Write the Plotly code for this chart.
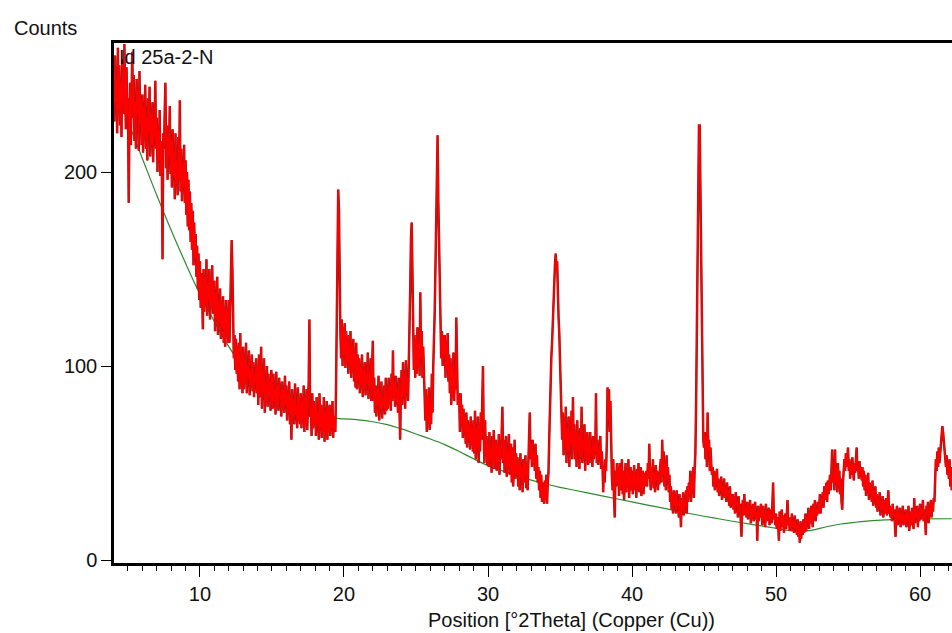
import plotly.graph_objects as go

# Scan grid (degrees 2Theta)
theta_start = 4.0
theta_step = 0.05

c04 = [252, 226, 260, 236, 248, 220, 264, 232, 255, 224, 246, 218, 258, 240, 230, 266, 238, 222, 254, 229]
c05 = [238, 184, 226, 246, 214, 240, 262, 228, 250, 216, 236, 212, 248, 230, 242, 211, 252, 225, 238, 214]
c06 = [240, 210, 234, 218, 245, 212, 228, 206, 238, 220, 244, 208, 230, 214, 236, 205, 226, 218, 247, 212]
c07 = [228, 200, 222, 206, 232, 198, 216, 204, 155, 220, 212, 230, 246, 202, 224, 196, 218, 208, 234, 199]
c08 = [216, 192, 222, 198, 210, 186, 220, 194, 206, 188, 218, 196, 237, 190, 212, 185, 204, 192, 214, 184]
c09 = [206, 178, 200, 172, 196, 170, 190, 164, 184, 160, 180, 152, 174, 156, 168, 146, 162, 140, 158, 134]
c10 = [154, 130, 148, 136, 119, 150, 128, 146, 132, 155, 126, 142, 134, 150, 124, 146, 130, 152, 127, 140]
c11 = [144, 118, 138, 124, 146, 116, 134, 122, 140, 114, 132, 120, 136, 112, 130, 110, 134, 116, 128, 112]
c12 = [134, 112, 128, 140, 165, 150, 118, 104, 116, 98, 114, 96, 110, 92, 112, 88, 117, 90, 106, 86]
c13 = [110, 88, 104, 92, 112, 86, 100, 94, 108, 85, 98, 90, 106, 87, 102, 84, 96, 91, 104, 86]
c14 = [100, 80, 106, 84, 94, 110, 78, 98, 86, 104, 76, 92, 82, 100, 79, 96, 84, 92, 77, 98]
c15 = [92, 78, 96, 82, 88, 75, 97, 80, 90, 77, 94, 84, 86, 74, 92, 79, 88, 76, 95, 80]
c16 = [90, 72, 86, 76, 92, 70, 84, 62, 88, 74, 82, 70, 91, 75, 80, 68, 89, 72, 84, 70]
c17 = [86, 68, 82, 72, 90, 66, 84, 70, 88, 67, 80, 92, 124, 74, 78, 64, 86, 68, 82, 70]
c18 = [80, 64, 84, 70, 76, 62, 86, 68, 80, 63, 78, 66, 84, 61, 76, 65, 82, 62, 79, 66]
c19 = [80, 64, 76, 68, 82, 63, 74, 70, 66, 90, 117, 170, 191, 180, 140, 118, 104, 124, 100, 120]
c20 = [106, 122, 99, 118, 102, 116, 96, 112, 100, 118, 94, 110, 98, 114, 92, 108, 89, 112, 88, 106]
c21 = [92, 104, 86, 100, 90, 106, 84, 98, 88, 102, 85, 96, 91, 107, 83, 97, 89, 104, 82, 94]
c22 = [113, 82, 94, 76, 90, 74, 88, 80, 95, 72, 86, 78, 92, 73, 84, 79, 90, 75, 94, 77]
c23 = [86, 78, 94, 80, 90, 77, 96, 82, 108, 84, 92, 79, 95, 81, 88, 76, 94, 80, 62, 86]
c24 = [98, 80, 102, 84, 96, 78, 103, 86, 94, 82, 100, 108, 140, 165, 174, 150, 122, 98, 116, 94]
c25 = [114, 96, 120, 100, 112, 95, 138, 104, 118, 94, 110, 98, 86, 72, 88, 66, 84, 70, 89, 67]
c26 = [82, 70, 96, 76, 100, 110, 128, 150, 168, 200, 219, 185, 158, 140, 124, 104, 118, 100, 116, 106]
c27 = [116, 94, 112, 98, 117, 92, 106, 86, 104, 80, 100, 84, 107, 82, 96, 88, 125, 90, 80, 86]
c28 = [84, 66, 86, 70, 80, 63, 78, 66, 74, 60, 76, 58, 72, 62, 70, 57, 74, 60, 68, 56]
c29 = [72, 55, 77, 52, 68, 58, 74, 50, 70, 56, 76, 62, 84, 100, 66, 50, 72, 54, 64, 49]
c30 = [60, 48, 66, 52, 58, 45, 64, 50, 67, 47, 56, 62, 46, 60, 50, 65, 44, 58, 52, 63]
c31 = [79, 50, 62, 45, 58, 64, 43, 56, 48, 65, 44, 54, 60, 40, 58, 38, 52, 62, 42, 55]
c32 = [44, 53, 38, 50, 36, 55, 42, 48, 35, 52, 40, 46, 54, 37, 50, 36, 47, 55, 76, 52]
c33 = [60, 48, 62, 50, 56, 46, 60, 42, 54, 40, 48, 36, 46, 32, 44, 30, 40, 34, 29, 41]
c34 = [31, 44, 29, 40, 45, 62, 80, 98, 105, 112, 122, 140, 145, 152, 158, 150, 154, 132, 125, 117]
c35 = [100, 90, 80, 62, 76, 54, 72, 58, 79, 50, 68, 56, 74, 48, 66, 60, 77, 52, 84, 58]
c36 = [70, 52, 66, 48, 72, 56, 64, 47, 68, 54, 79, 50, 62, 57, 70, 46, 64, 52, 66, 49]
c37 = [62, 50, 66, 54, 58, 48, 64, 52, 60, 56, 86, 50, 62, 49, 58, 54, 64, 47, 56, 50]
c38 = [35, 48, 40, 52, 46, 60, 89, 72, 88, 66, 82, 50, 44, 36, 52, 32, 22, 46, 38, 50]
c39 = [40, 48, 33, 50, 36, 44, 52, 34, 46, 31, 42, 50, 35, 47, 38, 52, 32, 44, 48, 36]
c40 = [46, 34, 42, 49, 36, 44, 32, 47, 38, 50, 35, 43, 48, 33, 41, 46, 34, 45, 38, 42]
c41 = [46, 38, 50, 42, 60, 44, 36, 48, 40, 52, 37, 45, 35, 49, 41, 46, 36, 44, 39, 48]
c42 = [52, 40, 62, 44, 56, 38, 50, 36, 54, 42, 48, 35, 44, 30, 38, 26, 34, 24, 36, 28]
c43 = [33, 24, 36, 28, 30, 22, 34, 26, 17, 32, 25, 35, 23, 30, 28, 36, 24, 38, 30, 40]
c44 = [34, 46, 30, 44, 36, 48, 32, 47, 55, 80, 118, 170, 217, 224, 224, 190, 139, 100, 71, 62]
c45 = [58, 66, 52, 64, 48, 76, 56, 62, 46, 58, 50, 44, 48, 38, 46, 36, 44, 40, 47, 35]
c46 = [42, 33, 40, 36, 43, 31, 38, 34, 42, 32, 37, 30, 40, 33, 36, 28, 38, 27, 34, 29]
c47 = [34, 26, 32, 24, 35, 28, 30, 22, 33, 25, 29, 21, 12, 27, 31, 23, 34, 24, 28, 22]
c48 = [30, 21, 28, 24, 31, 19, 27, 22, 29, 20, 26, 30, 21, 25, 10, 28, 20, 26, 22, 29]
c49 = [26, 18, 28, 21, 24, 17, 29, 20, 25, 22, 27, 18, 23, 26, 19, 28, 40, 21, 24, 18]
c50 = [24, 16, 22, 18, 10, 25, 15, 21, 26, 17, 23, 14, 20, 24, 16, 22, 31, 18, 21, 15]
c51 = [22, 15, 24, 17, 20, 14, 23, 16, 19, 13, 21, 12, 18, 9, 20, 11, 17, 13, 21, 14]
c52 = [18, 24, 15, 22, 20, 27, 16, 25, 19, 28, 21, 17, 29, 22, 31, 20, 26, 23, 30, 24]
c53 = [28, 34, 24, 32, 29, 35, 27, 38, 31, 36, 40, 30, 41, 34, 38, 44, 36, 46, 57, 40]
c54 = [44, 36, 57, 40, 48, 35, 50, 38, 46, 34, 42, 30, 26, 40, 44, 52, 46, 55, 48, 53]
c55 = [58, 46, 52, 42, 50, 44, 53, 47, 41, 50, 45, 52, 58, 46, 49, 42, 51, 44, 48, 41]
c56 = [48, 38, 46, 36, 44, 33, 42, 36, 45, 31, 40, 34, 38, 30, 41, 28, 36, 32, 38, 27]
c57 = [34, 25, 32, 28, 35, 23, 30, 26, 33, 22, 29, 31, 24, 32, 23, 30, 36, 24, 28, 22]
c58 = [27, 20, 29, 23, 26, 19, 12, 24, 28, 18, 25, 21, 27, 17, 24, 20, 28, 18, 23, 19]
c59 = [26, 17, 24, 20, 28, 15, 22, 25, 18, 27, 21, 16, 32, 19, 26, 22, 28, 17, 25, 20]
c60 = [29, 21, 27, 24, 31, 20, 26, 22, 13, 28, 23, 30, 19, 27, 24, 31, 22, 29, 25, 32]
c61 = [30, 45, 52, 46, 56, 48, 58, 50, 55, 60, 65, 69, 66, 62, 60, 52, 48, 54, 44, 50]
c62 = [42, 52, 38, 48, 36]

# Background curve (green)
bg_theta = [4, 5, 6, 7, 8, 9, 10, 11, 12, 13, 14, 15, 16, 17, 18, 19, 20, 21, 22, 23,
            24, 25, 26, 27, 28, 29, 30, 31, 32, 33, 34, 35, 36, 37, 38, 39, 40, 41, 42,
            43, 44, 45, 46, 47, 48, 49, 50, 51, 51.7, 52.5, 53.5, 54.5, 55.5, 57, 58.5,
            60, 62.2]
bg_counts = [245, 226, 207, 188, 170, 153, 137, 123, 110, 99, 90, 84, 79.5, 76.5, 74.5,
             73.3, 72.8, 72.3, 71.3, 69.8, 67.6, 65, 62.4, 59.5, 56, 52.2, 48.7, 46, 43.5,
             41.2, 39.2, 37.5, 36, 34.5, 33, 31.5, 30, 28.5, 27, 25.5, 24, 22.6, 21.3, 20,
             18.8, 17.6, 16.4, 15.2, 14.6, 15.4, 17.2, 18.6, 19.5, 20.5, 21, 21.2, 21.3]

x_ticks = [10, 20, 30, 40, 50, 60]
y_ticks = [0, 100, 200]
y_title = "Counts"
x_title = "Position [°2Theta] (Copper (Cu))"
sample_label = "Id 25a-2-N"

counts = []
for seg in [c04, c05, c06, c07, c08, c09, c10, c11, c12, c13, c14, c15, c16, c17, c18,
            c19, c20, c21, c22, c23, c24, c25, c26, c27, c28, c29, c30, c31, c32, c33,
            c34, c35, c36, c37, c38, c39, c40, c41, c42, c43, c44, c45, c46, c47, c48,
            c49, c50, c51, c52, c53, c54, c55, c56, c57, c58, c59, c60, c61, c62]:
    counts.extend(seg)
theta = [round(theta_start + i * theta_step, 3) for i in range(len(counts))]

FONT = "Arial, Liberation Sans, sans-serif"
FS = 20

fig = go.Figure()
fig.add_trace(go.Scatter(x=bg_theta, y=bg_counts, mode="lines",
                         line=dict(color="#2f8a2f", width=1.2, shape="spline"),
                         hoverinfo="skip"))
fig.add_trace(go.Scatter(x=theta, y=counts, mode="lines",
                         line=dict(color="#9c1a1a", width=2.5), hoverinfo="skip"))
fig.add_trace(go.Scatter(x=theta, y=counts, mode="lines",
                         line=dict(color="#ff0000", width=1.4), hoverinfo="skip"))

fig.update_layout(
    width=952, height=633,
    margin=dict(l=114, r=0, t=43, b=70),
    paper_bgcolor="white", plot_bgcolor="white",
    showlegend=False,
    font=dict(family=FONT, size=FS, color="#111111"),
    xaxis=dict(range=[4.03, 62.22], showline=True, linecolor="black", linewidth=2.5,
               mirror=True, ticks="outside", tickvals=x_ticks, ticklen=11, tickwidth=1,
               tickcolor="black", showgrid=False, zeroline=False,
               tickfont=dict(size=FS),
               minor=dict(dtick=1, tick0=0, ticks="outside", ticklen=5, tickwidth=1,
                          tickcolor="black", showgrid=False)),
    yaxis=dict(range=[-1.5, 266.5], showline=True, linecolor="black", linewidth=2.5,
               ticks="outside", tickvals=y_ticks, ticklen=10, tickwidth=1,
               tickcolor="black", showgrid=False, zeroline=False,
               tickfont=dict(size=FS)),
    annotations=[
        dict(text=y_title, xref="paper", yref="paper", x=-0.1217, y=1.0288,
             xanchor="left", yanchor="middle", showarrow=False, font=dict(size=FS)),
        dict(text=sample_label, xref="paper", yref="paper", x=0.004, y=0.973,
             xanchor="left", yanchor="middle", showarrow=False, font=dict(size=FS)),
        dict(text=x_title, xref="paper", yref="paper", x=0.5465, y=-0.1096,
             xanchor="center", yanchor="middle", showarrow=False, font=dict(size=FS)),
    ],
)

fig.write_html("out.html", config={"displayModeBar": False},
               post_script="document.body.style.margin='0';document.body.style.overflow='hidden';")
